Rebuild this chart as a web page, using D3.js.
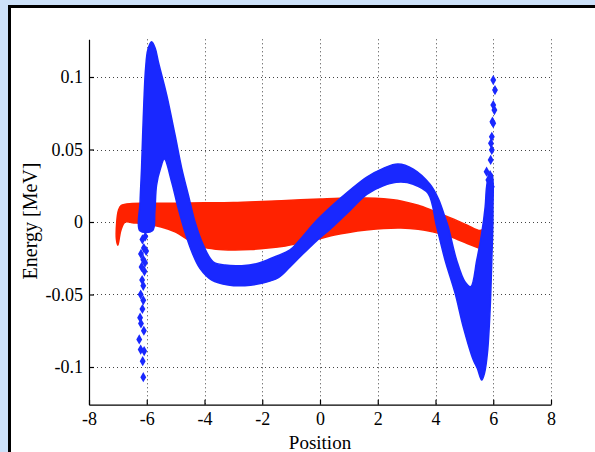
<!DOCTYPE html>
<html><head><meta charset="utf-8">
<script src="https://cdn.jsdelivr.net/npm/d3@7/dist/d3.min.js"></script>
<style>body{margin:0;background:#cde1f9;overflow:hidden} svg{display:block}</style>
</head><body><svg id="c" width="595" height="452"></svg>
<script>
// ---- data ----
const xTicks = [-8, -6, -4, -2, 0, 2, 4, 6, 8];
const xTickLabels = ["-8", "-6", "-4", "-2", "0", "2", "4", "6", "8"];
const yTicks = [-0.1, -0.05, 0, 0.05, 0.1];
const yTickLabels = ["-0.1", "-0.05", "0", "0.05", "0.1"];
const xLabel = "Position";
const yLabel = "Energy [MeV]";

// red particle cloud outline (upper edge left->right, lower edge right->left)
const redX = [-7.05, -7.04, -6.98, -6.88, -6.50, -6.00, -5.00, -4.00, -3.00, -2.00, -1.00, 0.00, 1.00, 1.60, 2.20, 2.80, 3.40, 3.90, 4.50, 5.10, 5.50, 5.65, 5.72,
              5.73, 5.68, 5.50, 5.10, 4.50, 3.90, 3.40, 2.80, 2.20, 1.60, 1.00, 0.50, 0.00, -0.60, -1.20, -1.80, -2.40, -3.00, -3.60, -4.10, -4.55, -5.00, -5.50, -6.00, -6.50, -6.75, -6.90, -7.00];
const redY = [-0.012, 0.000, 0.008, 0.0115, 0.0128, 0.0130, 0.0130, 0.0132, 0.0135, 0.0142, 0.0150, 0.0158, 0.0165, 0.0166, 0.0160, 0.0145, 0.0115, 0.0078, 0.0030, -0.0022, -0.0058, -0.0050, -0.0030,
              -0.0150, -0.0195, -0.0180, -0.0148, -0.0100, -0.0068, -0.0050, -0.0042, -0.0045, -0.0056, -0.0072, -0.0090, -0.0115, -0.0142, -0.0165, -0.0180, -0.0190, -0.0193, -0.0188, -0.0170, -0.0125, -0.0070, -0.0035, -0.0015, -0.0005, 0.000, -0.006, -0.016];

// blue particle cloud outline
const blueX = [-6.24, -6.23, -6.18, -6.12, -6.04, -5.96, -5.83, -5.71, -5.60, -5.31, -5.02, -4.79, -4.56, -4.33, -4.04, -3.70, -3.29, -2.71, -2.14, -1.56, -1.04,
               -0.69, -0.12, 0.46, 1.04, 1.62, 2.19, 2.70, 3.23, 3.81, 4.10, 4.30, 4.44, 4.73, 5.02, 5.22, 5.43, 5.60, 5.72, 5.77, 5.85, 5.95,
               5.99, 5.95, 5.89, 5.80, 5.70, 5.60, 5.45, 5.31, 4.96, 4.68, 4.33, 4.04, 3.74, 3.23, 2.77, 2.19, 1.62, 1.04, 0.46, -0.12, -0.69, -1.04,
               -1.44, -2.02, -2.60, -3.18, -3.75, -4.16, -4.44, -4.68, -4.91, -5.14, -5.39, -5.52, -5.66, -5.72, -5.80];
const blueY = [-0.006, 0.014, 0.037, 0.072, 0.106, 0.119, 0.1243, 0.120, 0.1106, 0.0876, 0.0600, 0.0372, 0.0186, 0.0002, -0.0159, -0.0274, -0.0297, -0.0301, -0.0285, -0.0239, -0.0193,
               -0.0120, 0.0010, 0.0120, 0.0220, 0.0310, 0.0370, 0.0400, 0.0365, 0.0260, 0.0160, 0.0050, -0.0032, -0.0262, -0.0412, -0.0446, -0.0262, -0.0078, 0.0105, 0.0243, 0.0320, 0.0330,
               0.0083, -0.0262, -0.0607, -0.0900, -0.1040, -0.1090, -0.1010, -0.0952, -0.0722, -0.0492, -0.0262, -0.0032, 0.0198, 0.0260, 0.0275, 0.0250, 0.0190, 0.0080, -0.0030, -0.0130, -0.0240, -0.0310,
               -0.0384, -0.0423, -0.0439, -0.0434, -0.0400, -0.0319, -0.0205, -0.0067, 0.0094, 0.0278, 0.0434, 0.0372, 0.0255, 0.0070, -0.0060];

// sparse blue particles (tails)
const blueTailX = [-6.15, -6.05, -6.10, -6.20, -6.02, -6.12, -6.18, -6.06, -6.08, -6.16, -6.12, -6.21, -6.12, -6.15, -6.23, -6.20, -6.10, -6.26, -6.21, -6.09, -6.14, -6.12,
                   6.00, 6.06, 6.00, 6.04, 5.97, 6.00, 5.95, 5.92, 5.95, 5.91, 5.77, 5.89, 5.83, 5.95];
const blueTailY = [-0.012, -0.010, -0.018, -0.022, -0.020, -0.026, -0.031, -0.028, -0.034, -0.040, -0.044, -0.050, -0.054, -0.060, -0.066, -0.070, -0.075, -0.081, -0.088, -0.089, -0.096, -0.107,
                   0.0979, 0.0910, 0.0807, 0.0772, 0.0692, 0.0681, 0.0588, 0.0543, 0.0497, 0.0428, 0.0347, 0.0324, 0.0290, 0.0243];

const redColor = "#ff2200";
const blueColor = "#1928ff";

// ---- drawing ----
const svg = d3.select("#c");
svg.append("rect").attr("x", 0).attr("y", 0).attr("width", 595).attr("height", 452).attr("fill", "#cde1f9");
svg.append("rect").attr("x", 9.5).attr("y", 6.5).attr("width", 620).attr("height", 480)
   .attr("fill", "#ffffff").attr("stroke", "#000").attr("stroke-width", 3);

const x = d3.scaleLinear().domain([-8, 8]).range([89, 551]);
const y = d3.scaleLinear().domain([-0.126, 0.126]).range([404.7, 39.3]);

// grid
const grid = svg.append("g").attr("stroke", "#444").attr("stroke-width", 1).attr("stroke-dasharray", "1,3");
grid.selectAll(".gx").data(xTicks.filter(d => d > -8)).join("line")
  .attr("x1", d => Math.round(x(d)) + 0.5).attr("x2", d => Math.round(x(d)) + 0.5)
  .attr("y1", y(0.126)).attr("y2", y(-0.126));
grid.selectAll(".gy").data(yTicks).join("line")
  .attr("y1", d => Math.round(y(d)) + 0.5).attr("y2", d => Math.round(y(d)) + 0.5)
  .attr("x1", x(-8)).attr("x2", x(8));

// clouds
const pts = (xs, ys) => xs.map((v, i) => [x(v), y(ys[i])]);
const closed = d3.line().curve(d3.curveCatmullRomClosed.alpha(0.5));
svg.append("path").attr("d", closed(pts(redX, redY)))
  .attr("fill", redColor).attr("stroke", redColor).attr("stroke-width", 1.5);
svg.append("path").attr("d", closed(pts(blueX, blueY)))
  .attr("fill", blueColor).attr("stroke", blueColor).attr("stroke-width", 1.5);
const diamond = d3.symbol().type(d3.symbolDiamond).size(30);
svg.append("g").selectAll("path").data(blueTailX.map((v, i) => [v, blueTailY[i]])).join("path")
  .attr("transform", d => `translate(${x(d[0])},${y(d[1])})`)
  .attr("d", diamond).attr("fill", blueColor);

// axes
const font = "'Liberation Serif', 'Times New Roman', serif";
const ax = svg.append("g").attr("transform", `translate(0,${y(-0.126)})`)
  .call(d3.axisBottom(x).tickValues(xTicks).tickFormat((d, i) => xTickLabels[i])
        .tickSizeInner(-5).tickSizeOuter(0).tickPadding(8));
const ay = svg.append("g").attr("transform", `translate(${x(-8)},0)`)
  .call(d3.axisLeft(y).tickValues(yTicks).tickFormat((d, i) => yTickLabels[i])
        .tickSizeInner(-5).tickSizeOuter(0).tickPadding(6));
[ax, ay].forEach(g => {
  g.attr("font-family", font).attr("font-size", 18);
  g.selectAll("text").attr("fill", "#000");
  g.selectAll("line,path").attr("stroke", "#000").attr("stroke-width", 1.2);
});

svg.append("text").attr("x", (x(-8) + x(8)) / 2).attr("y", 449)
  .attr("text-anchor", "middle").attr("font-family", font).attr("font-size", 19).attr("fill", "#000")
  .text(xLabel);
svg.append("text").attr("transform", `translate(37,221) rotate(-90)`)
  .attr("text-anchor", "middle").attr("font-family", font).attr("font-size", 20).attr("fill", "#000")
  .text(yLabel);
</script></body></html>
